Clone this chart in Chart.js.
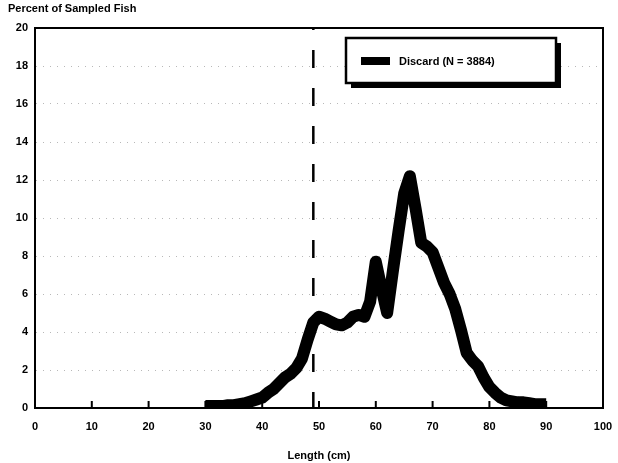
<!DOCTYPE html>
<html>
<head>
<meta charset="utf-8">
<script src="https://cdn.jsdelivr.net/npm/chart.js@4"></script>
<style>
  html, body { margin: 0; padding: 0; background: #fff; }
  #wrap { width: 618px; height: 463px; }
</style>
</head>
<body>
<div id="wrap"><canvas id="fishChart"></canvas></div>
<script>
// length classes (cm) and percent of sampled fish
var lengths = [30,31,32,33,34,35,36,37,38,39,40,41,42,43,44,45,46,47,48,49,50,
  51,52,53,54,55,56,57,58,59,60,61,62,63,64,65,66,67,68,69,70,
  71,72,73,74,75,76,77,78,79,80,81,82,83,84,85,86,87,88,89,90];
var percents = [0.1,0.1,0.1,0.1,0.15,0.15,0.2,0.25,0.35,0.45,0.55,
  0.8,1.0,1.3,1.6,1.8,2.1,2.6,3.6,4.5,4.8,
  4.7,4.55,4.4,4.35,4.5,4.8,4.9,4.8,5.6,7.7,
  6.3,5.0,7.2,9.3,11.3,12.2,10.5,8.7,8.5,8.2,
  7.4,6.6,6.0,5.2,4.1,2.9,2.5,2.2,1.6,1.1,
  0.8,0.55,0.4,0.35,0.3,0.3,0.25,0.2,0.2,0.2];
var cutoff = 49;  // dashed reference line
var seriesLabel = 'Discard (N = 3884)';
var yTitle = 'Percent of Sampled Fish';
var xTitle = 'Length (cm)';

var fontFam = '"Liberation Sans", Arial, sans-serif';

var points = lengths.map(function(x, i) { return { x: x, y: percents[i] }; });

// frame, inner x ticks, y title and legend box
var decor = {
  id: 'decor',
  afterDraw: function(chart) {
    var ctx = chart.ctx;
    var a = chart.chartArea;
    var xs = chart.scales.x;
    ctx.save();
    ctx.strokeStyle = '#000';
    ctx.lineWidth = 2;
    ctx.beginPath();
    ctx.moveTo(a.left, a.top);
    ctx.lineTo(a.right, a.top);
    ctx.lineTo(a.right, a.bottom);
    ctx.stroke();

    // small inside ticks on x axis
    xs.ticks.forEach(function(t) {
      if (t.value === 0 || t.value === 100) return;
      var px = xs.getPixelForValue(t.value);
      ctx.beginPath();
      ctx.moveTo(px, a.bottom);
      ctx.lineTo(px, a.bottom - 7);
      ctx.stroke();
    });

    // y title
    ctx.fillStyle = '#000';
    ctx.font = 'bold 11px ' + fontFam;
    ctx.textAlign = 'left';
    ctx.textBaseline = 'middle';
    ctx.fillText(yTitle, 8, 9);

    // legend box with shadow
    var bx = 346, by = 38, bw = 210, bh = 45;
    ctx.fillStyle = '#000';
    ctx.fillRect(bx + 5, by + 5, bw, bh);
    ctx.fillStyle = '#fff';
    ctx.fillRect(bx, by, bw, bh);
    ctx.lineWidth = 2.5;
    ctx.strokeRect(bx, by, bw, bh);
    ctx.fillStyle = '#000';
    ctx.fillRect(bx + 15, by + 19, 29, 8);
    ctx.font = 'bold 11px ' + fontFam;
    ctx.fillText(seriesLabel, bx + 53, by + 24);
    ctx.restore();
  }
};

new Chart(document.getElementById('fishChart'), {
  type: 'line',
  data: {
    datasets: [{
      label: seriesLabel,
      data: points,
      borderColor: '#000',
      backgroundColor: '#000',
      borderWidth: 12,
      borderJoinStyle: 'round',
      borderCapStyle: 'butt',
      pointRadius: 0,
      tension: 0,
      fill: false
    }, {
      label: 'cutoff',
      data: [{ x: cutoff, y: 0 }, { x: cutoff, y: 20 }],
      borderColor: '#000',
      borderWidth: 2.5,
      borderDash: [18, 20],
      borderDashOffset: 2,
      pointRadius: 0,
      fill: false
    }]
  },
  options: {
    responsive: true,
    maintainAspectRatio: false,
    animation: false,
    layout: { padding: { top: 28, right: 15, left: 0, bottom: 0 } },
    plugins: {
      legend: { display: false },
      tooltip: { enabled: false }
    },
    scales: {
      x: {
        type: 'linear',
        min: 0,
        max: 100,
        ticks: {
          stepSize: 10,
          color: '#000',
          font: { family: fontFam, size: 11, weight: 'bold' },
          padding: 4,
          maxRotation: 0
        },
        grid: { display: false },
        border: { display: true, color: '#000', width: 2 },
        title: {
          display: true,
          text: xTitle,
          color: '#000',
          font: { family: fontFam, size: 11, weight: 'bold' },
          padding: { top: 4, bottom: 0 }
        },
        afterFit: function(scale) { scale.height = 55; }
      },
      y: {
        min: 0,
        max: 20,
        ticks: {
          stepSize: 2,
          color: '#000',
          font: { family: fontFam, size: 11, weight: 'bold' },
          padding: 7
        },
        grid: {
          drawTicks: false,
          color: function(c) { return (c.tick.value === 0 || c.tick.value === 20) ? 'rgba(0,0,0,0)' : '#b8b8b8'; },
          lineWidth: 1
        },
        border: { display: true, color: '#000', width: 2, dash: [1, 6] },
        afterFit: function(scale) { scale.width = 35; }
      }
    }
  },
  plugins: [decor]
});
</script>
</body>
</html>
